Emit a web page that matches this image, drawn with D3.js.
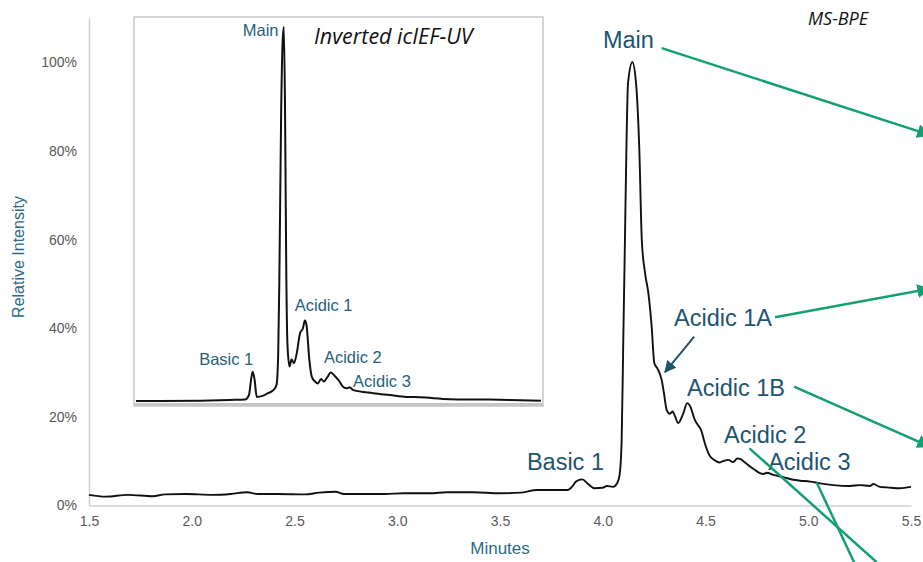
<!DOCTYPE html>
<html>
<head>
<meta charset="utf-8">
<script src="https://cdn.jsdelivr.net/npm/d3@7"></script>
<style>
  body { margin: 0; background: #fff; }
  .axis text { fill: #595959; font-family: "Liberation Sans", Arial, sans-serif; }
  .axis path { stroke: #d0d0d0; stroke-width: 1.5; }
  .ann { fill: #1d5470; font-family: "Liberation Sans", Arial, sans-serif; }
</style>
</head>
<body>
<script>
// MS-BPE trace (minutes vs relative intensity)
var msMinutes = [1.50, 1.58, 1.69, 1.81, 1.87, 1.97, 2.10, 2.19, 2.27, 2.32, 2.42, 2.55, 2.62, 2.70, 2.74, 2.83,
    2.94, 3.03, 3.16, 3.24, 3.37, 3.50, 3.60, 3.68, 3.83, 3.85, 3.87, 3.90, 3.93, 3.96, 4.00, 4.02, 4.05, 4.07,
    4.082, 4.092, 4.100, 4.108, 4.115, 4.123, 4.144, 4.162, 4.178, 4.190, 4.206, 4.222, 4.238, 4.251, 4.265,
    4.287, 4.298, 4.311, 4.327, 4.340, 4.351, 4.367, 4.392, 4.411, 4.424, 4.448, 4.481, 4.497, 4.521, 4.541,
    4.567, 4.585, 4.611, 4.634, 4.655, 4.668, 4.692, 4.717, 4.741, 4.765, 4.781, 4.798, 4.830, 4.879, 4.927,
    4.960, 5.009, 5.057, 5.122, 5.203, 5.252, 5.300, 5.317, 5.349, 5.382, 5.446, 5.50];
var msIntensity = [0.024, 0.020, 0.024, 0.021, 0.025, 0.026, 0.024, 0.026, 0.030, 0.026, 0.026, 0.025, 0.029, 0.031, 0.026, 0.026,
    0.026, 0.0275, 0.0275, 0.030, 0.030, 0.0275, 0.029, 0.035, 0.035, 0.042, 0.054, 0.059, 0.048, 0.039, 0.040, 0.044, 0.042, 0.050,
    0.069, 0.148, 0.374, 0.599, 0.802, 0.953, 1.0, 0.953, 0.802, 0.599, 0.524, 0.479, 0.404, 0.321, 0.310,
    0.283, 0.253, 0.216, 0.207, 0.212, 0.202, 0.186, 0.208, 0.231, 0.225, 0.193, 0.167, 0.140, 0.112, 0.103,
    0.097, 0.100, 0.103, 0.098, 0.106, 0.105, 0.097, 0.088, 0.080, 0.073, 0.071, 0.074, 0.069, 0.064, 0.058,
    0.056, 0.054, 0.050, 0.046, 0.044, 0.046, 0.044, 0.0485, 0.042, 0.041, 0.039, 0.042];

// inverted icIEF-UV inset (relative position vs relative signal)
var insetPos = [0, 5.9, 15.8, 23.2, 26.9, 27.9, 28.4, 28.8, 29.3, 29.8, 31.1, 32.6, 33.9, 34.7, 35.1, 35.4, 35.85, 36.2,
    36.5, 36.8, 37.1, 37.4, 37.9, 38.4, 39.0, 39.7, 40.5, 41.2, 41.7, 42.1, 42.8, 43.4, 44.2, 44.9, 45.7, 46.4, 47.2,
    48.1, 49.1, 50.0, 51.2, 52.2, 52.7, 53.7, 58.6, 62.7, 66.8, 70.1, 77.5, 84.9, 92.3, 100];
var insetSignal = [0, 0, 0.001, 0.003, 0.004, 0.016, 0.056, 0.078, 0.056, 0.011, 0.013, 0.021, 0.029, 0.043, 0.12, 0.33, 0.78, 0.96,
    1.0, 0.778, 0.35, 0.15, 0.092, 0.111, 0.101, 0.128, 0.181, 0.194, 0.215, 0.203, 0.110, 0.065, 0.052, 0.047, 0.059, 0.052, 0.063,
    0.076, 0.067, 0.056, 0.037, 0.034, 0.037, 0.029, 0.021, 0.016, 0.011, 0.010, 0.005, 0.004, 0.003, 0.001];

var xTicks = [1.5, 2.0, 2.5, 3.0, 3.5, 4.0, 4.5, 5.0, 5.5];
var yTicks = [0, 0.2, 0.4, 0.6, 0.8, 1.0];

// label text + anchor (minutes, intensity)
var peakLabels = ["Main", "Acidic 1A", "Acidic 1B", "Acidic 2", "Acidic 3", "Basic 1"];
var peakLabelX = [4.001, 4.347, 4.410, 4.590, 4.805, 3.631];
var peakLabelY = [1.033, 0.404, 0.246, 0.140, 0.080, 0.080];

var insetLabels = ["Main", "Basic 1", "Acidic 1", "Acidic 2", "Acidic 3"];
var insetLabelX = [35.2, 15.6, 39.2, 46.4, 53.6];
var insetLabelY = [0.977, 0.096, 0.241, 0.102, 0.038];

// green leader arrows (start -> end, in minutes / intensity)
var greenArrows = [
    [4.287, 1.032, 5.592, 0.836, true],
    [4.838, 0.425, 5.592, 0.489, true],
    [4.931, 0.268, 5.592, 0.133, true],
    [4.714, 0.129, 5.333, -0.128, false],
    [5.041, 0.052, 5.223, -0.128, false]
];

var width = 923, height = 562;

var svg = d3.select("body").append("svg")
    .attr("width", width)
    .attr("height", height);

var defs = svg.append("defs");
defs.append("marker").attr("id", "headGreen")
    .attr("viewBox", "0 0 10 10").attr("refX", 9).attr("refY", 5)
    .attr("markerUnits", "userSpaceOnUse")
    .attr("markerWidth", 14).attr("markerHeight", 14).attr("orient", "auto")
    .append("path").attr("d", "M0,0L10,5L0,10z").attr("fill", "#14a06e");
defs.append("marker").attr("id", "headBlue")
    .attr("viewBox", "0 0 10 10").attr("refX", 9).attr("refY", 5)
    .attr("markerUnits", "userSpaceOnUse")
    .attr("markerWidth", 12).attr("markerHeight", 12).attr("orient", "auto")
    .append("path").attr("d", "M0,0L10,5L0,10z").attr("fill", "#1d5470");

var x = d3.scaleLinear().domain([1.5, 5.5]).range([89, 911]);
var y = d3.scaleLinear().domain([0, 1.1]).range([505.5, 18]);

// AXES
svg.append("g")
    .attr("class", "axis")
    .attr("transform", "translate(0," + y(0) + ")")
    .call(d3.axisBottom(x).tickValues(xTicks).tickFormat(d3.format(".1f")).tickSize(0).tickPadding(11))
    .selectAll("text")
    .style("font-family", "'Liberation Sans Narrow', 'Liberation Sans', sans-serif")
    .style("font-size", "14px");

svg.append("g")
    .attr("class", "axis")
    .attr("transform", "translate(" + x(1.5) + ",0)")
    .call(d3.axisLeft(y).tickValues(yTicks).tickFormat(d3.format(".0%")).tickSize(0).tickPadding(12))
    .selectAll("text")
    .style("font-size", "14px");

svg.append("text")
    .attr("transform", "translate(24,257) rotate(-90)")
    .attr("text-anchor", "middle")
    .style("font-family", "'Liberation Sans', Arial, sans-serif")
    .style("font-size", "16px")
    .style("fill", "#2b6a89")
    .text("Relative Intensity");

svg.append("text")
    .attr("x", (x(1.5) + x(5.5)) / 2)
    .attr("y", 554)
    .attr("text-anchor", "middle")
    .style("font-family", "'Liberation Sans Narrow', 'Liberation Sans', sans-serif")
    .style("font-size", "17px")
    .style("fill", "#2b6a89")
    .text("Minutes");

// MAIN TRACE
var msData = msMinutes.map(function (m, i) { return { t: m, v: msIntensity[i] }; });
svg.append("path")
    .datum(msData)
    .attr("fill", "none")
    .attr("stroke", "#111")
    .attr("stroke-width", 1.9)
    .attr("d", d3.line().x(d => x(d.t)).y(d => y(d.v)).curve(d3.curveMonotoneX));

// INSET
var ix = d3.scaleLinear().domain([0, 100]).range([136, 541]);
var iy = d3.scaleLinear().domain([0, 1]).range([401, 27]);

var inset = svg.append("g");
inset.append("rect")
    .attr("x", 134).attr("y", 17).attr("width", 409).attr("height", 389)
    .attr("fill", "#fff").attr("stroke", "#c6c6c6").attr("stroke-width", 1.5);
inset.append("line")
    .attr("x1", 134).attr("x2", 543).attr("y1", 404.5).attr("y2", 404.5)
    .attr("stroke", "#c6c6c6").attr("stroke-width", 3);

var insetData = insetPos.map(function (p, i) { return { p: p, s: insetSignal[i] }; });
inset.append("path")
    .datum(insetData)
    .attr("fill", "none")
    .attr("stroke", "#111")
    .attr("stroke-width", 2)
    .attr("d", d3.line().x(d => ix(d.p)).y(d => iy(d.s)).curve(d3.curveMonotoneX));

inset.selectAll(".ilab")
    .data(insetLabels)
    .enter()
    .append("text")
    .attr("class", "ann")
    .attr("x", (d, i) => ix(insetLabelX[i]))
    .attr("y", (d, i) => iy(insetLabelY[i]))
    .attr("text-anchor", (d, i) => i == 0 ? "end" : "start")
    .style("font-size", "16.5px")
    .style("fill", "#275f7d")
    .text(d => d);

inset.append("text")
    .attr("x", 314).attr("y", 44)
    .style("font-family", "'Open Sans', sans-serif")
    .style("font-style", "italic")
    .style("font-size", "21.5px")
    .style("fill", "#111")
    .text("Inverted icIEF-UV");

svg.append("text")
    .attr("x", 808).attr("y", 25)
    .style("font-family", "'Open Sans', sans-serif")
    .style("font-style", "italic")
    .style("font-size", "18px")
    .style("fill", "#111")
    .text("MS-BPE");

// ANNOTATIONS
svg.selectAll(".plab")
    .data(peakLabels)
    .enter()
    .append("text")
    .attr("class", "ann")
    .attr("x", (d, i) => x(peakLabelX[i]))
    .attr("y", (d, i) => y(peakLabelY[i]))
    .style("font-size", "23.5px")
    .text(d => d);

svg.selectAll(".garrow")
    .data(greenArrows)
    .enter()
    .append("line")
    .attr("x1", d => x(d[0])).attr("y1", d => y(d[1]))
    .attr("x2", d => x(d[2])).attr("y2", d => y(d[3]))
    .attr("stroke", "#14a06e")
    .attr("stroke-width", 2.5)
    .attr("marker-end", d => d[4] ? "url(#headGreen)" : null);

// small pointer to the Acidic 1A shoulder
svg.append("line")
    .attr("x1", x(4.445)).attr("y1", y(0.381))
    .attr("x2", x(4.303)).attr("y2", y(0.301))
    .attr("stroke", "#1d5470")
    .attr("stroke-width", 2)
    .attr("marker-end", "url(#headBlue)");
</script>
</body>
</html>
